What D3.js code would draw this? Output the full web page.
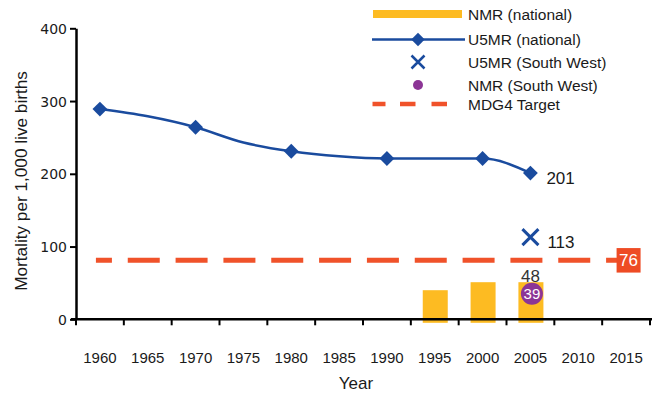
<!DOCTYPE html>
<html><head><meta charset="utf-8">
<script src="https://cdn.jsdelivr.net/npm/d3@7"></script>
<style>
html,body{margin:0;padding:0;background:#fff;}
svg{display:block;}
</style></head>
<body><svg id="c" width="660" height="394"></svg>
<script>
// ---- data ----
const years = [1960,1965,1970,1975,1980,1985,1990,1995,2000,2005,2010,2015];
const yTicks = [0,100,200,300,400];
const u5mrYears = [1960,1965,1970,1975,1980,1985,1990,1995,2000,2005];
const u5mrValues = [289,279,264,243,231,224,221,221,221,201];
const u5mrMarkerYears = [1960,1970,1980,1990,2000,2005];
const nmrYears = [1995,2000,2005];
const nmrValues = [40,51,51];
const swU5mrYear = 2005, swU5mrValue = 113;
const swNmrYear = 2005, swNmrValue = 35;
const mdgValue = 81;
const labels = {u5mrLast:"201", swU5mr:"113", nmrLast:"48", swNmr:"39", mdg:"76"};
const legendItems = ["NMR (national)","U5MR (national)","U5MR (South West)","NMR (South West)","MDG4 Target"];

const C = {blue:"#1A4B9E", yellow:"#FDBB22", red:"#F0522A", purple:"#8C3596", text:"#1a1a1a"};

const svg = d3.select("#c");
const x = d3.scaleBand().domain(years).range([76,650]).paddingInner(0).paddingOuter(0);
const cx = yr => x(yr) + x.bandwidth()/2;
const y = d3.scaleLinear().domain([0,400]).range([319.3,28.3]);

// ---- bars (NMR national) ----
const bw = 25;
svg.append("g").selectAll("rect").data(nmrYears).join("rect")
  .attr("x", (d)=>cx(d)-bw/2+0.5)
  .attr("y", (d,i)=>y(nmrValues[i]))
  .attr("width", bw)
  .attr("height", (d,i)=>y(0)-y(nmrValues[i])+3.5)
  .attr("fill", C.yellow);

// ---- MDG line ----
const s = x.step();
svg.append("line")
  .attr("x1", cx(years[0])-4).attr("x2", cx(years[years.length-1]))
  .attr("y1", y(mdgValue)).attr("y2", y(mdgValue))
  .attr("stroke", C.red).attr("stroke-width", 5)
  .attr("stroke-dasharray", `16,${s-32},16,0`);

// ---- axes ----
const yAxis = svg.append("g").attr("transform","translate(76,0)")
  .call(d3.axisLeft(y).tickValues(yTicks).tickSize(6).tickSizeOuter(0));
yAxis.select(".domain").attr("stroke","#000").attr("stroke-width",2.5);
yAxis.selectAll(".tick line").attr("stroke","#000").attr("stroke-width",2);
yAxis.selectAll(".tick text").attr("x",-9).attr("dy","0.36em")
  .style("font-family","'DejaVu Sans'").style("font-size","14px").attr("fill",C.text);

const xAxis = svg.append("g").attr("transform",`translate(0,${y(0)})`)
  .call(d3.axisBottom(x).tickSize(0).tickSizeOuter(0));
xAxis.select(".domain").attr("stroke","#000").attr("stroke-width",2.5)
  .attr("d", `M${x.range()[0]-5},0H${x.range()[1]+2}`);
xAxis.selectAll(".tick text").attr("y",44).attr("dy",0)
  .style("font-family","'Liberation Sans'").style("font-size","15px").attr("fill",C.text);
svg.append("g").selectAll("line").data(d3.range(years.length+1)).join("line")
  .attr("x1", i=>x.range()[0]+i*s).attr("x2", i=>x.range()[0]+i*s)
  .attr("y1", y(0)).attr("y2", y(0)+6)
  .attr("stroke","#000").attr("stroke-width",2);

svg.append("text").attr("x",356).attr("y",389).attr("text-anchor","middle")
  .style("font-family","'Liberation Sans'").style("font-size","17px").attr("fill",C.text).text("Year");
svg.append("text").attr("transform","translate(27,181) rotate(-90)").attr("text-anchor","middle")
  .style("font-family","'Liberation Sans'").style("font-size","17.2px").attr("fill",C.text)
  .text("Mortality per 1,000 live births");

// ---- U5MR line ----
const lineData = u5mrYears.map((yr,i)=>[cx(yr), y(u5mrValues[i])]);
svg.append("path").datum(lineData)
  .attr("d", d3.line().curve(d3.curveMonotoneX))
  .attr("fill","none").attr("stroke",C.blue).attr("stroke-width",2.5);
svg.append("g").selectAll("path").data(u5mrMarkerYears).join("path")
  .attr("transform", d=>`translate(${cx(d)},${y(u5mrValues[u5mrYears.indexOf(d)])}) rotate(45)`)
  .attr("d", d3.symbol().type(d3.symbolSquare).size(110))
  .attr("fill",C.blue);

// ---- South West markers ----
const xs = cx(swU5mrYear), ys = y(swU5mrValue);
svg.append("path").attr("d",`M${xs-8},${ys-8}L${xs+8},${ys+8}M${xs+8},${ys-8}L${xs-8},${ys+8}`)
  .attr("stroke",C.blue).attr("stroke-width",3).attr("fill","none");
svg.append("circle").attr("cx", cx(swNmrYear)+1.5).attr("cy", y(swNmrValue)).attr("r",11).attr("fill",C.purple);

// ---- data labels ----
const lab = (tx,ty,t,anchor,fill,size)=>svg.append("text").attr("x",tx).attr("y",ty)
  .attr("text-anchor",anchor).style("font-family","'Liberation Sans'").style("font-size",size+"px")
  .attr("fill",fill).text(t);
const last = u5mrValues.length-1;
lab(cx(u5mrYears[last])+16, y(u5mrValues[last])+10.5, labels.u5mrLast, "start", C.text, 17);
lab(xs+17, ys+11, labels.swU5mr, "start", C.text, 17);
lab(cx(2005), y(nmrValues[2])-0.5, labels.nmrLast, "middle", "#333", 17);
lab(cx(swNmrYear)+1.5, y(swNmrValue)+5.5, labels.swNmr, "middle", "#fff", 15);
const bx = cx(years[years.length-1])+2.5, by = y(mdgValue);
svg.append("rect").attr("x",bx-12).attr("y",by-12.3).attr("width",24).attr("height",24.5).attr("fill","#EE4B24");
lab(bx, by+6, labels.mdg, "middle", "#fff", 17);

// ---- legend ----
const lg = svg.append("g");
const ly = [14, 39.5, 62, 85, 104];
lg.append("line").attr("x1",373).attr("x2",462).attr("y1",ly[0]).attr("y2",ly[0]).attr("stroke",C.yellow).attr("stroke-width",8);
lg.append("line").attr("x1",372).attr("x2",465).attr("y1",ly[1]).attr("y2",ly[1]).attr("stroke",C.blue).attr("stroke-width",2.5);
lg.append("path").attr("transform",`translate(418,${ly[1]}) rotate(45)`).attr("d", d3.symbol().type(d3.symbolSquare).size(90)).attr("fill",C.blue);
lg.append("path").attr("d",`M411.5,${ly[2]-6.5}L424.5,${ly[2]+6.5}M424.5,${ly[2]-6.5}L411.5,${ly[2]+6.5}`).attr("stroke",C.blue).attr("stroke-width",2.5);
lg.append("circle").attr("cx",418).attr("cy",ly[3]).attr("r",5).attr("fill",C.purple);
[[372.5,385.5],[400,415.5],[431.5,447]].forEach(([a,b])=>
  lg.append("line").attr("x1",a).attr("x2",b).attr("y1",ly[4]).attr("y2",ly[4]).attr("stroke",C.red).attr("stroke-width",4.5));
lg.selectAll("text").data(legendItems).join("text")
  .attr("x",468).attr("y",(d,i)=>ly[i]+5.5)
  .style("font-family","'Liberation Sans'").style("font-size","15.5px").attr("fill",C.text)
  .text(d=>d);
</script></body></html>
